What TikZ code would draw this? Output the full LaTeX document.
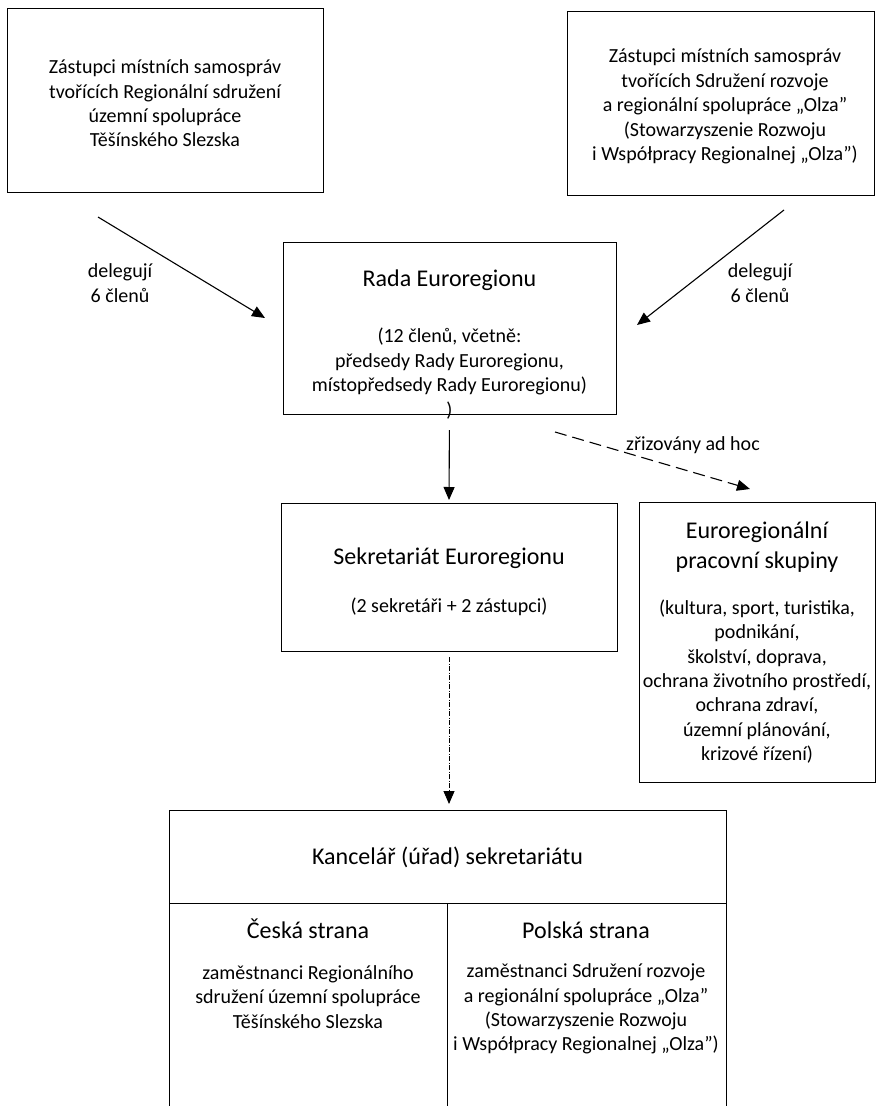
\documentclass[tikz,border=0pt]{standalone}
\usepackage{fontspec}
\setmainfont{Carlito}
\usetikzlibrary{arrows.meta}

\begin{document}
\begin{tikzpicture}[x=1pt,y=-1pt,
  box/.style={draw,line width=1pt,inner sep=0pt,outer sep=0pt},
  txt/.style={align=center,font=\fontsize{20}{24.4}\selectfont,inner sep=0pt},
  big/.style={align=center,font=\fontsize{24}{29.5}\selectfont,inner sep=0pt},
  arr/.style={-{Triangle[length=13pt,width=11pt]},line width=1.1pt}]
\useasboundingbox (0,0) rectangle (876,1106);

\node[box,minimum width=316,minimum height=184] (zast1) at (165,100) {};
\node[box,minimum width=307,minimum height=184] (zast2) at (721,103) {};
\node[box,minimum width=333,minimum height=172] (rada) at (449.5,328) {};
\node[box,minimum width=336,minimum height=148] (sekr) at (449,577) {};
\node[box,minimum width=236,minimum height=280] (skup) at (757,642) {};
\node[box,minimum width=557,minimum height=93] (kanc) at (447.5,856.5) {};
\draw[line width=1pt] (kanc.south west) -- (169,1106)
  (kanc.south east) -- (726,1106) (kanc.south) -- (447.5,1106);

\node[txt] (zast1txt) at (165,103.5) {Zástupci místních samospráv\\tvořících Regionální sdružení\\územní spolupráce\\Těšínského Slezska};
\node[txt] (zast2txt) at (725,106.5) {Zástupci místních samospráv\\tvořících Sdružení rozvoje\\a regionální spolupráce „Olza”\\(Stowarzyszenie Rozwoju\\i Współpracy Regionalnej „Olza”)};
\node[txt] (deleg1) at (120,283) {delegují\\6 členů};
\node[txt] (deleg2) at (760,283) {delegují\\6 členů};
\node[big] (radatit) at (449.5,280) {Rada Euroregionu};
\node[txt] (radatxt) at (449.5,373.5) {(12 členů, včetně:\\předsedy Rady Euroregionu,\\místopředsedy Rady Euroregionu)\\)};
\node[txt] (adhoc) at (693,445) {zřizovány ad hoc};
\node[big] (sekrtit) at (449,558) {Sekretariát Euroregionu};
\node[txt] (sekrtxt) at (449,607) {(2 sekretáři + 2 zástupci)};
\node[big] (skuptit) at (757,547) {Euroregionální\\pracovní skupiny};
\node[txt] (skuptxt) at (757,681.5) {(kultura, sport, turistika,\\podnikání,\\školství, doprava,\\ochrana životního prostředí,\\ochrana zdraví,\\územní plánování,\\krizové řízení)};
\node[big] (kanctit) at (447.5,857) {Kancelář (úřad) sekretariátu};
\node[big,anchor=base] (cztit) at (308,938) {Česká strana};
\node[txt] (cztxt) at (308,997) {zaměstnanci Regionálního\\sdružení územní spolupráce\\Těšínského Slezska};
\node[big,anchor=base] (pltit) at (586,938) {Polská strana};
\node[txt] (pltxt) at (586,1009) {zaměstnanci Sdružení rozvoje\\a regionální spolupráce „Olza”\\(Stowarzyszenie Rozwoju\\i Współpracy Regionalnej „Olza”)};

\coordinate (d1a) at (98,217);
\coordinate (d1b) at (265,318);
\coordinate (d2a) at (784,210);
\coordinate (d2b) at (637,325);
\coordinate (ha) at (555,432);
\coordinate (hb) at (750,489);
\draw[arr] (d1a) -- (d1b);
\draw[arr] (d2a) -- (d2b);
\draw[arr,dash pattern=on 12pt off 6pt] (ha) -- (hb);
\draw[arr,shorten <=16pt,shorten >=3pt] (rada.south) -- (sekr.north);
\draw[arr,line width=0.9pt,dash pattern=on 5pt off 1.5pt on 1pt off 1.5pt,shorten <=6pt,shorten >=6pt] (sekr.south) -- (sekr.south |- kanc.north);
\end{tikzpicture}
\end{document}
